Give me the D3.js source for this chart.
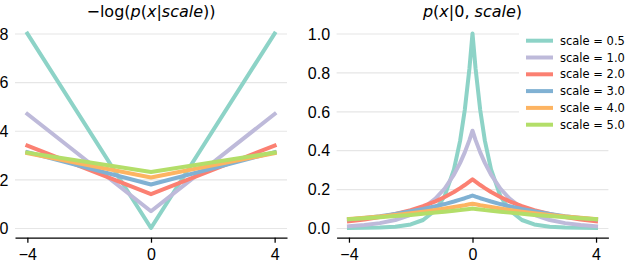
<!DOCTYPE html>
<html>
<head>
<meta charset="utf-8">
<script src="https://cdn.jsdelivr.net/npm/d3@7"></script>
<style>
  body { margin: 0; background: #fff; }
  svg { display: block; font-family: "DejaVu Sans", sans-serif; }
  .grid line { stroke: #e6e6e6; stroke-width: 1.2; }
  .tick text { font-size: 16px; fill: #000; }
</style>
</head>
<body>
<div id="chart"></div>
<script>
// Data
var scales = ["0.5", "1.0", "2.0", "3.0", "4.0", "5.0"];
var colors = ["#8dd3c7", "#bebada", "#fb8072", "#80b1d3", "#fdb462", "#b3de69"];

// left panel: -log p(x|scale), straight V lines
var nllX = [-4, 0, 4];
var nll05 = [8.00, 0.00, 8.00];
var nll10 = [4.69, 0.69, 4.69];
var nll20 = [3.39, 1.39, 3.39];
var nll30 = [3.12, 1.79, 3.12];
var nll40 = [3.08, 2.08, 3.08];
var nll50 = [3.10, 2.30, 3.10];

// right panel: p(x|0, scale)
var pdfX = [-4, -3.5, -3, -2.5, -2, -1.6, -1.2, -0.9, -0.6, -0.4, -0.25, -0.1, 0,
            0.1, 0.25, 0.4, 0.6, 0.9, 1.2, 1.6, 2, 2.5, 3, 3.5, 4];
var pdf05 = [0.0003, 0.0009, 0.0025, 0.0067, 0.018, 0.041, 0.091, 0.165, 0.301, 0.449, 0.607, 0.819, 1.000,
             0.819, 0.607, 0.449, 0.301, 0.165, 0.091, 0.041, 0.018, 0.0067, 0.0025, 0.0009, 0.0003];
var pdf10 = [0.009, 0.015, 0.025, 0.041, 0.068, 0.101, 0.151, 0.203, 0.274, 0.335, 0.389, 0.452, 0.500,
             0.452, 0.389, 0.335, 0.274, 0.203, 0.151, 0.101, 0.068, 0.041, 0.025, 0.015, 0.009];
var pdf20 = [0.034, 0.043, 0.056, 0.072, 0.092, 0.112, 0.137, 0.159, 0.185, 0.205, 0.221, 0.238, 0.250,
             0.238, 0.221, 0.205, 0.185, 0.159, 0.137, 0.112, 0.092, 0.072, 0.056, 0.043, 0.034];
var pdf30 = [0.044, 0.052, 0.061, 0.072, 0.086, 0.098, 0.112, 0.123, 0.136, 0.146, 0.153, 0.161, 0.167,
             0.161, 0.153, 0.146, 0.136, 0.123, 0.112, 0.098, 0.086, 0.072, 0.061, 0.052, 0.044];
var pdf40 = [0.046, 0.052, 0.059, 0.067, 0.076, 0.084, 0.093, 0.100, 0.108, 0.113, 0.117, 0.122, 0.125,
             0.122, 0.117, 0.113, 0.108, 0.100, 0.093, 0.084, 0.076, 0.067, 0.059, 0.052, 0.046];
var pdf50 = [0.045, 0.050, 0.055, 0.061, 0.067, 0.073, 0.079, 0.084, 0.089, 0.092, 0.095, 0.098, 0.100,
             0.098, 0.095, 0.092, 0.089, 0.084, 0.079, 0.073, 0.067, 0.061, 0.055, 0.050, 0.045];

var xTicks = [-4, 0, 4];
var nllTicks = [0, 2, 4, 6, 8];
var pdfTicks = [0, 0.2, 0.4, 0.6, 0.8, 1.0];

var svgWidth = 626;
var svgHeight = 264;

var svg = d3.select("#chart")
  .append("svg")
  .attr("width", svgWidth)
  .attr("height", svgHeight);

// draw one subplot
function panel(opts) {
  var x = d3.scaleLinear().domain([-4.4, 4.4]).range([opts.left, opts.right]);
  var y = d3.scaleLinear().domain(opts.yDomain).range([237.7, 23.8]);
  var w = opts.right - opts.left;

  // gridlines + y labels
  svg.append("g")
    .attr("class", "grid")
    .attr("transform", `translate(${opts.left},0)`)
    .call(d3.axisLeft(y).tickValues(opts.yTicks).tickSize(-w).tickPadding(6.5).tickFormat(opts.yFormat))
    .call(g => g.select(".domain").remove())
    .call(g => g.selectAll("text").attr("dy", "0.36em"));

  // x axis
  svg.append("g")
    .attr("transform", `translate(0,237.7)`)
    .call(d3.axisBottom(x).tickValues(xTicks).tickSize(5).tickSizeOuter(0).tickPadding(5.5).tickFormat(d3.format("d")))
    .call(g => g.select(".domain").attr("stroke", "#000").attr("stroke-width", 1.25))
    .call(g => g.selectAll(".tick line").attr("stroke", "#000").attr("stroke-width", 1.25));

  var line = d3.line()
    .x((d, i) => x(opts.xs[i]))
    .y(d => y(d));

  svg.append("g").selectAll("path")
    .data(opts.series)
    .enter()
    .append("path")
    .attr("d", d => line(d))
    .attr("fill", "none")
    .attr("stroke", (d, i) => colors[i])
    .attr("stroke-width", 4)
    .attr("stroke-linejoin", "round")
    .attr("stroke-linecap", "square");

  // title with italic math parts
  var t = svg.append("text")
    .attr("x", (opts.left + opts.right) / 2)
    .attr("y", 17)
    .attr("text-anchor", "middle")
    .attr("font-size", "16px");
  opts.title.forEach(function(p) {
    t.append("tspan").attr("font-style", p[1] ? "italic" : "normal").text(p[0]);
  });
}

panel({
  left: 15, right: 287,
  yDomain: [-0.4, 8.4], yTicks: nllTicks, yFormat: d3.format("d"),
  xs: nllX, series: [nll05, nll10, nll20, nll30, nll40, nll50],
  title: [["\u2212log(", 0], ["p", 1], ["(", 0], ["x", 1], ["|", 0], ["scale", 1], ["))", 0]]
});

panel({
  left: 336.6, right: 608.4,
  yDomain: [-0.05, 1.05], yTicks: pdfTicks, yFormat: d3.format(".1f"),
  xs: pdfX, series: [pdf05, pdf10, pdf20, pdf30, pdf40, pdf50],
  title: [["p", 1], ["(", 0], ["x", 1], ["|0, ", 0], ["scale", 1], [")", 0]]
});

// legend
var legend = svg.append("g");
legend.append("rect")
  .attr("x", 519).attr("y", 30)
  .attr("width", 110).attr("height", 104)
  .attr("fill", "#fff");

var rows = legend.selectAll("g.row")
  .data(scales)
  .enter()
  .append("g")
  .attr("class", "row")
  .attr("transform", (d, i) => `translate(0, ${40.7 + i * 16.8})`);

rows.append("line")
  .attr("x1", 526).attr("x2", 553)
  .attr("stroke", (d, i) => colors[i])
  .attr("stroke-width", 4);

rows.append("text")
  .attr("x", 560)
  .attr("dy", "0.36em")
  .attr("font-size", "11.5px")
  .text(d => `scale = ${d}`);
</script>
</body>
</html>
